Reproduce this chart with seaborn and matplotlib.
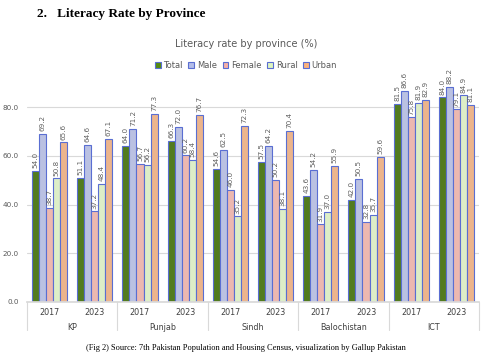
import matplotlib
matplotlib.use("Agg")
import matplotlib.pyplot as plt
import seaborn as sns
import pandas as pd
from matplotlib.transforms import blended_transform_factory

provinces = ["KP", "Punjab", "Sindh", "Balochistan", "ICT"]
years = ["2017", "2023"]
series = ["Total", "Male", "Female", "Rural", "Urban"]
total = [54.0, 51.1, 64.0, 66.3, 54.6, 57.5, 43.6, 42.0, 81.5, 84.0]
male = [69.2, 64.6, 71.2, 72.0, 62.5, 64.2, 54.2, 50.5, 86.6, 88.2]
female = [38.7, 37.2, 56.7, 60.2, 46.0, 50.2, 31.9, 32.8, 75.8, 79.1]
rural = [50.8, 48.4, 56.2, 58.4, 35.2, 38.1, 37.0, 35.7, 81.9, 84.9]
urban = [65.6, 67.1, 77.3, 76.7, 72.3, 70.4, 55.9, 59.6, 82.9, 81.1]

colors = ["#548a10", "#b3bde9", "#f6b0a6", "#def5c0", "#fcb27c"]
edge = "#5a6ed2"

groups = [f"{p}|{y}" for p in provinces for y in years]
rows = []
for name, vals in zip(series, [total, male, female, rural, urban]):
    for g, v in zip(groups, vals):
        rows.append({"group": g, "series": name, "value": v})
df = pd.DataFrame(rows)

sns.set_theme(style="white")
fig = plt.figure(figsize=(4.93, 3.56), dpi=100)
ax = fig.add_axes([27/493, 1-302/356, (479-27)/493, 224/356])

sns.barplot(data=df, x="group", y="value", hue="series", order=groups,
            hue_order=series, palette=colors, width=0.78, ax=ax,
            edgecolor=edge, linewidth=0.8, legend=False)

for cont in ax.containers:
    ax.bar_label(cont, fmt="%.1f", rotation=90, padding=2, fontsize=5.2,
                 color="#606060")

ax.set_ylim(0, 92)
ax.set_yticks([0, 20, 40, 60, 80])
ax.set_yticklabels([f"{t:.1f}" for t in [0, 20, 40, 60, 80]], fontsize=5.2,
                   color="#595959")
ax.yaxis.grid(True, color="#d9d9d9", linewidth=0.8)
ax.set_axisbelow(True)
ax.set_xlim(-0.5, 9.5)
ax.set_xticks(range(10))
ax.set_xticklabels(years * 5, fontsize=5.8, color="#404040")
ax.tick_params(axis="both", length=0, pad=4)
ax.tick_params(axis="y", pad=6)
ax.set_xlabel("")
ax.set_ylabel("")
for s in ["top", "right", "left"]:
    ax.spines[s].set_visible(False)
ax.spines["bottom"].set_color("#d9d9d9")

trans = blended_transform_factory(ax.transData, ax.transAxes)
for i in range(6):
    x = -0.5 + 2 * i
    ax.plot([x, x], [0, -0.125], transform=trans, color="#d9d9d9",
            linewidth=0.8, clip_on=False)
for i, p in enumerate(provinces):
    ax.text(2 * i + 0.5, -0.115, p, transform=trans, ha="center", va="center",
            fontsize=5.8, color="#404040")

# legend
handles = [plt.Rectangle((0, 0), 1, 1, facecolor=c, edgecolor=edge, linewidth=0.8)
           for c in colors]
fig.legend(handles, series, loc="center", bbox_to_anchor=(246/493, 1-65/356),
           ncol=5, frameon=False, fontsize=6, handlelength=0.7,
           handleheight=0.7, handletextpad=0.3, columnspacing=0.7,
           labelcolor="#595959")

fig.text(246/493, 1-44/356, "Literacy rate by province (%)", ha="center",
         va="center", fontsize=7, color="#595959")
fig.text(37/493, 1-14/356, "2.   Literacy Rate by Province", ha="left",
         va="center", fontsize=9.5, fontweight="bold",
         family="Liberation Serif", color="black")
fig.text(246/493, 1-348/356,
         "(Fig 2) Source: 7th Pakistan Population and Housing Census, visualization by Gallup Pakistan",
         ha="center", va="center", fontsize=6, family="Liberation Serif",
         color="black")

fig.savefig("out.png", dpi=100)
